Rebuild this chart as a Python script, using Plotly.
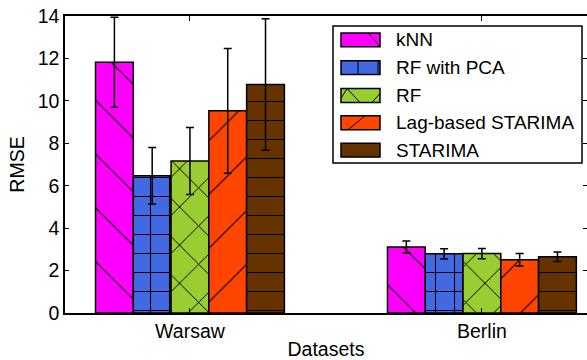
import plotly.graph_objects as go

datasets = ["Warsaw", "Berlin"]
methods = ["kNN", "RF with PCA", "RF", "Lag-based STARIMA", "STARIMA"]
rmse = {
    "kNN": [11.82, 3.11],
    "RF with PCA": [6.47, 2.79],
    "RF": [7.17, 2.80],
    "Lag-based STARIMA": [9.53, 2.51],
    "STARIMA": [10.77, 2.65],
}
err = {
    "kNN": [2.12, 0.28],
    "RF with PCA": [1.33, 0.24],
    "RF": [1.58, 0.24],
    "Lag-based STARIMA": [2.94, 0.30],
    "STARIMA": [3.10, 0.22],
}
colors = ["#FF00FF", "#4169E1", "#9ACD32", "#FF4500", "#663300"]
patterns = ["\\", "+", "x", "/", "-"]
psizes = [38, 19, 27, 38, 19]
psolid = [0.03, 0.11, 0.07, 0.03, 0.055]

FONT = "Liberation Sans, Arial, sans-serif"
W, H = 587, 360
ML, MR, MT, MB = 65, 0, 16, 45
PW, PH = W - ML - MR, H - MT - MB

fig = go.Figure()
for i, m in enumerate(methods):
    fig.add_trace(go.Bar(
        x=datasets, y=rmse[m], name=m, showlegend=False,
        marker=dict(color=colors[i], line=dict(color="black", width=1.5),
                    pattern=dict(shape=patterns[i], size=psizes[i], solidity=psolid[i],
                                 fgcolor="black", bgcolor=colors[i], fillmode="replace")),
        error_y=dict(type="data", array=err[m], color="black", thickness=1.5, width=4),
    ))

# invisible trace for right-side mirrored ticks
fig.add_trace(go.Scatter(x=datasets, y=[0, 0], yaxis="y2", mode="markers",
                         marker=dict(opacity=0), showlegend=False, hoverinfo="skip"))

fig.update_layout(
    width=W, height=H,
    margin=dict(l=ML, r=MR, t=MT, b=MB, pad=0),
    paper_bgcolor="white", plot_bgcolor="white",
    barmode="group", bargap=0.353, bargroupgap=0,
    font=dict(family=FONT, size=19.5, color="black"),
    xaxis=dict(range=[-0.428, 1.36], showline=True, linecolor="black", linewidth=1.5,
               mirror="ticks", ticks="inside", ticklen=5, tickwidth=1, tickcolor="black",
               showgrid=False, zeroline=False,
               title=dict(text="Datasets", standoff=4, font=dict(size=19.5))),
    yaxis=dict(range=[0, 14], dtick=2, showline=True, linecolor="black", linewidth=1.5,
               ticks="inside", ticklen=4, tickwidth=1, tickcolor="black",
               showgrid=False, zeroline=False,
               title=dict(text="RMSE", standoff=8, font=dict(size=19.5))),
    yaxis2=dict(range=[0, 14], dtick=2, overlaying="y", side="right", showline=False,
                ticks="inside", ticklen=4, tickwidth=1, tickcolor="black",
                showticklabels=False, showgrid=False, zeroline=False),
)

# manual legend
def px_x(px):
    return (px - ML) / PW

def px_y(py):
    return (H - MB - py) / PH

fig.add_shape(type="rect", xref="paper", yref="paper",
              x0=px_x(333), x1=px_x(582), y0=px_y(164), y1=px_y(26),
              line=dict(color="black", width=1.5), fillcolor="white", layer="above")
rows = [40, 68, 96, 123.5, 151]
# small pattern fragments visible in each legend swatch (offsets from swatch left/top)
frags = [
    [(27, 0, 39, 14)],
    [(17, 0, 17, 14), (37, 0, 37, 14)],
    [(0, 10, 6, 0), (6, 0, 19, 14), (31, 14, 39, 5)],
    [(7, 14, 24, 0)],
    [],
]
for i, m in enumerate(methods):
    cy = rows[i]
    sx0, sy0 = 341, cy - 7
    fig.add_shape(type="rect", xref="paper", yref="paper",
                  x0=px_x(sx0), x1=px_x(380), y0=px_y(cy + 7), y1=px_y(sy0),
                  line=dict(width=0), fillcolor=colors[i], layer="above")
    for (ax, ay, bx, by) in frags[i]:
        fig.add_shape(type="line", xref="paper", yref="paper",
                      x0=px_x(sx0 + ax), y0=px_y(sy0 + ay), x1=px_x(sx0 + bx), y1=px_y(sy0 + by),
                      line=dict(color="black", width=1), layer="above")
    fig.add_shape(type="rect", xref="paper", yref="paper",
                  x0=px_x(sx0), x1=px_x(380), y0=px_y(cy + 7), y1=px_y(sy0),
                  line=dict(color="black", width=1.5), fillcolor="rgba(0,0,0,0)", layer="above")
    fig.add_annotation(xref="paper", yref="paper", x=px_x(394), y=px_y(cy),
                       text=m, showarrow=False, xanchor="left", yanchor="middle",
                       font=dict(size=19, family=FONT, color="black"))

fig.write_html("out.html")
